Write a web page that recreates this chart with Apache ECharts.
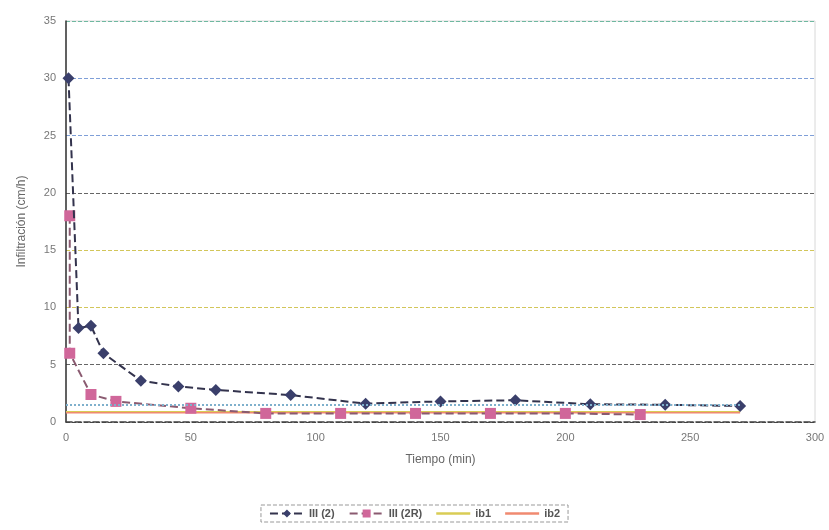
<!DOCTYPE html>
<html><head><meta charset="utf-8">
<script src="https://cdn.jsdelivr.net/npm/echarts@6/dist/echarts.min.js"></script>
<style>html,body{margin:0;padding:0;background:#fff}#c{width:829px;height:530px}</style>
</head><body><div id="c"></div>
<script>
// Data
const t2  = [1, 5, 10, 15, 30, 45, 60, 90, 120, 150, 180, 210, 240, 270];
const v2  = [30, 8.2, 8.4, 6.0, 3.6, 3.1, 2.8, 2.35, 1.6, 1.8, 1.9, 1.55, 1.5, 1.4];
const t2R = [1.5, 1.5, 10, 20, 50, 80, 110, 140, 170, 200, 230];
const v2R = [18, 6.0, 2.4, 1.8, 1.2, 0.75, 0.75, 0.75, 0.75, 0.75, 0.65];
const tIb = [0, 270];
const vIb1 = [0.9, 0.9];
const vIb2 = [0.8, 0.8];
const refLevel = 1.5;
const xTicks = [0, 50, 100, 150, 200, 250, 300];
const yTicks = [0, 5, 10, 15, 20, 25, 30, 35];

const pair = (xs, ys) => xs.map((x, i) => [x, ys[i]]);
const font = 'Liberation Sans';
const lineIcon = 'path://M0,0 L40,0 L40,3 L0,3 Z';
const chart = echarts.init(document.getElementById('c'));
chart.setOption({
  animation: false,
  backgroundColor: '#fff',
  textStyle: {fontFamily: font},
  grid: {left: 66, right: 14, top: 21, bottom: 108, show: true, borderColor: '#d8d8d8', borderWidth: 1},
  xAxis: {
    type: 'value', min: xTicks[0], max: xTicks[xTicks.length-1], interval: 50,
    name: 'Tiempo (min)', nameLocation: 'middle', nameGap: 32,
    nameTextStyle: {color: '#666', fontSize: 12, fontFamily: font},
    axisLine: {lineStyle: {color: '#444', type: 'dashed', width: 1.5}},
    axisTick: {show: false},
    axisLabel: {color: '#777', fontSize: 11, margin: 10},
    splitLine: {show: false}
  },
  yAxis: {
    type: 'value', min: yTicks[0], max: yTicks[yTicks.length-1], interval: 5,
    name: 'Infiltración (cm/h)', nameLocation: 'middle', nameGap: 38,
    nameTextStyle: {color: '#666', fontSize: 12, fontFamily: font},
    axisLine: {show: true, lineStyle: {color: '#333', width: 1.5}},
    axisTick: {show: false},
    axisLabel: {color: '#777', fontSize: 11, margin: 10},
    splitLine: {show: true, lineStyle: {type: 'dashed', width: 1,
      color: ['#444', '#666', '#d2c65a', '#d2c65a', '#666', '#7f9fd8', '#7f9fd8', '#6fb8a0']}}
  },
  legend: {
    bottom: 8, left: 'center', itemGap: 14, itemWidth: 34, itemHeight: 10,
    borderColor: '#999', borderWidth: 1, borderType: 'dashed', padding: [3, 8],
    textStyle: {color: '#555', fontSize: 11, fontWeight: 'bold'},
    data: ['III (2)', 'III (2R)', {name: 'ib1', icon: lineIcon, itemHeight: 2}, {name: 'ib2', icon: lineIcon, itemHeight: 2}]
  },
  series: [
    {name: 'ib1', type: 'line', data: pair(tIb, vIb1), symbol: 'none',
     lineStyle: {color: '#d9cc55', width: 1.5}, itemStyle: {color: '#d9cc55'}, z: 1,
     markLine: {silent: true, symbol: 'none', label: {show: false},
       lineStyle: {color: '#7fb0cc', type: 'dotted', width: 2},
       data: [[{coord: [tIb[0], refLevel]}, {coord: [tIb[1], refLevel]}]]}},
    {name: 'ib2', type: 'line', data: pair(tIb, vIb2), symbol: 'none',
     lineStyle: {color: '#f08a70', width: 1.5}, itemStyle: {color: '#f08a70'}, z: 1},
    {name: 'III (2R)', type: 'line', data: pair(t2R, v2R), symbol: 'rect', symbolSize: 11,
     lineStyle: {color: '#8a5a70', type: 'dashed', width: 2},
     itemStyle: {color: '#d0679a'}, z: 3},
    {name: 'III (2)', type: 'line', data: pair(t2, v2), symbol: 'diamond', symbolSize: 12,
     lineStyle: {color: '#33334d', type: 'dashed', width: 2},
     itemStyle: {color: '#3a3f6b'}, z: 4}
  ]
});
</script></body></html>
